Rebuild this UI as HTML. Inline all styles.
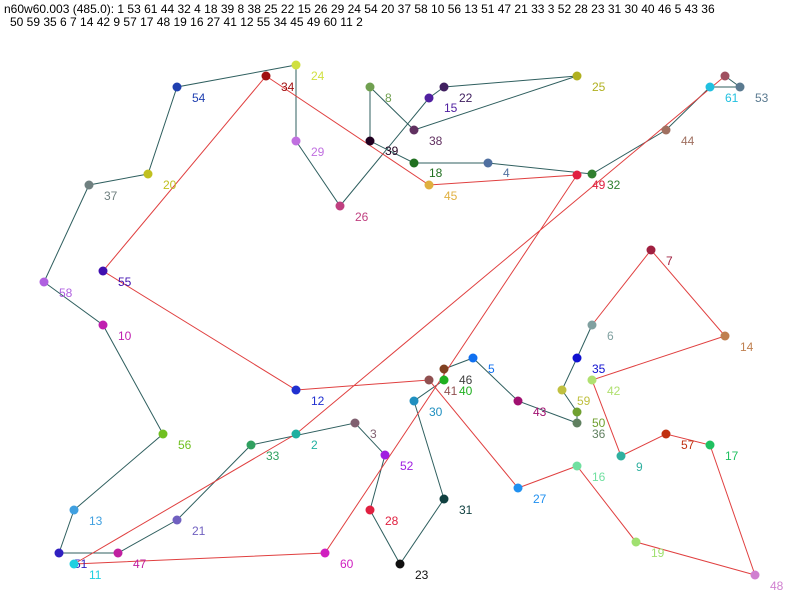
<!DOCTYPE html>
<html><head><meta charset="utf-8"><style>
html,body{margin:0;padding:0;background:#fff;}
svg{display:block;font-family:"Liberation Sans",sans-serif;}
</style></head><body>
<svg width="800" height="600" xmlns="http://www.w3.org/2000/svg">
<text x="4" y="13" font-size="12" fill="#000">n60w60.003 (485.0): 1 53 61 44 32 4 18 39 8 38 25 22 15 26 29 24 54 20 37 58 10 56 13 51 47 21 33 3 52 28 23 31 30 40 46 5 43 36</text>
<text x="10" y="26" font-size="12" fill="#000">50 59 35 6 7 14 42 9 57 17 48 19 16 27 41 12 55 34 45 49 60 11 2</text>
<polyline fill="none" stroke="#2f5f5f" stroke-width="1" points="725,76 740,87 710,87 666,130 592,174 488,163 414,163 370,141 370,87 414,130 577,76 444,87 429,98 340,206 296,141 296,65 177,87 148,174 89,185 44,282 103,325 163,434 74,510 59,553 118,553 177,520 251,445 355,423 385,455 370,510 400,564 444,499 414,401 444,380 444,369 473,358 518,401 577,423 577,412 562,390 577,358 592,325"/>
<polyline fill="none" stroke="#e04040" stroke-width="1" points="592,325 651,250 725,336 592,380 621,456 666,434 710,445 755,575 636,542 577,466 518,488 429,380 296,390 103,271 266,76 429,185 577,175 325,553 74,564 296,434 725,76"/>
<g font-size="12">
<circle cx="725" cy="76" r="4.5" fill="#a05060"/>
<circle cx="740" cy="87" r="4.5" fill="#5a7a90"/><text x="755" y="102" fill="#5a7a90">53</text>
<circle cx="710" cy="87" r="4.5" fill="#20c0e0"/><text x="725" y="102" fill="#20c0e0">61</text>
<circle cx="666" cy="130" r="4.5" fill="#a07060"/><text x="681" y="145" fill="#a07060">44</text>
<circle cx="592" cy="174" r="4.5" fill="#308030"/><text x="607" y="189" fill="#308030">32</text>
<circle cx="577" cy="175" r="4.5" fill="#e02040"/><text x="592" y="189" fill="#e02040">49</text>
<circle cx="488" cy="163" r="4.5" fill="#5070a0"/><text x="503" y="177" fill="#5070a0">4</text>
<circle cx="414" cy="163" r="4.5" fill="#207020"/><text x="429" y="177" fill="#207020">18</text>
<circle cx="370" cy="141" r="4.5" fill="#200020"/><text x="385" y="155" fill="#200020">39</text>
<circle cx="370" cy="87" r="4.5" fill="#70a050"/><text x="385" y="102" fill="#70a050">8</text>
<circle cx="414" cy="130" r="4.5" fill="#603060"/><text x="429" y="145" fill="#603060">38</text>
<circle cx="577" cy="76" r="4.5" fill="#b0b020"/><text x="592" y="91" fill="#b0b020">25</text>
<circle cx="444" cy="87" r="4.5" fill="#402060"/><text x="459" y="102" fill="#402060">22</text>
<circle cx="429" cy="98" r="4.5" fill="#5020a0"/><text x="444" y="112" fill="#5020a0">15</text>
<circle cx="340" cy="206" r="4.5" fill="#c04080"/><text x="355" y="221" fill="#c04080">26</text>
<circle cx="296" cy="141" r="4.5" fill="#c070e0"/><text x="311" y="156" fill="#c070e0">29</text>
<circle cx="296" cy="65" r="4.5" fill="#d0e040"/><text x="311" y="80" fill="#d0e040">24</text>
<circle cx="177" cy="87" r="4.5" fill="#2040b0"/><text x="192" y="102" fill="#2040b0">54</text>
<circle cx="148" cy="174" r="4.5" fill="#c0c020"/><text x="163" y="189" fill="#c0c020">20</text>
<circle cx="89" cy="185" r="4.5" fill="#708080"/><text x="104" y="200" fill="#708080">37</text>
<circle cx="44" cy="282" r="4.5" fill="#b060e0"/><text x="59" y="297" fill="#b060e0">58</text>
<circle cx="103" cy="325" r="4.5" fill="#c020b0"/><text x="118" y="340" fill="#c020b0">10</text>
<circle cx="163" cy="434" r="4.5" fill="#70c020"/><text x="178" y="449" fill="#70c020">56</text>
<circle cx="74" cy="510" r="4.5" fill="#40a0e0"/><text x="89" y="525" fill="#40a0e0">13</text>
<circle cx="59" cy="553" r="4.5" fill="#3020c0"/><text x="74" y="568" fill="#3020c0">51</text>
<circle cx="118" cy="553" r="4.5" fill="#c020a0"/><text x="133" y="568" fill="#c020a0">47</text>
<circle cx="177" cy="520" r="4.5" fill="#7060c0"/><text x="192" y="535" fill="#7060c0">21</text>
<circle cx="251" cy="445" r="4.5" fill="#30a060"/><text x="266" y="460" fill="#30a060">33</text>
<circle cx="355" cy="423" r="4.5" fill="#806070"/><text x="370" y="438" fill="#806070">3</text>
<circle cx="385" cy="455" r="4.5" fill="#a020e0"/><text x="400" y="470" fill="#a020e0">52</text>
<circle cx="370" cy="510" r="4.5" fill="#e02040"/><text x="385" y="525" fill="#e02040">28</text>
<circle cx="400" cy="564" r="4.5" fill="#101010"/><text x="415" y="579" fill="#101010">23</text>
<circle cx="444" cy="499" r="4.5" fill="#104040"/><text x="459" y="514" fill="#104040">31</text>
<circle cx="414" cy="401" r="4.5" fill="#2090c0"/><text x="429" y="416" fill="#2090c0">30</text>
<circle cx="444" cy="369" r="4.5" fill="#804020"/><text x="459" y="384" fill="#404040">46</text>
<circle cx="444" cy="380" r="4.5" fill="#20b020"/><text x="459" y="395" fill="#20b020">40</text>
<circle cx="473" cy="358" r="4.5" fill="#1070f0"/><text x="488" y="373" fill="#1070f0">5</text>
<circle cx="518" cy="401" r="4.5" fill="#a01070"/><text x="533" y="416" fill="#a01070">43</text>
<circle cx="577" cy="423" r="4.5" fill="#608060"/><text x="592" y="438" fill="#608060">36</text>
<circle cx="577" cy="412" r="4.5" fill="#70a030"/><text x="592" y="427" fill="#70a030">50</text>
<circle cx="562" cy="390" r="4.5" fill="#c0c040"/><text x="577" y="405" fill="#c0c040">59</text>
<circle cx="577" cy="358" r="4.5" fill="#1010d0"/><text x="592" y="373" fill="#1010d0">35</text>
<circle cx="592" cy="325" r="4.5" fill="#80a0a0"/><text x="607" y="340" fill="#80a0a0">6</text>
<circle cx="651" cy="250" r="4.5" fill="#a02040"/><text x="666" y="265" fill="#a02040">7</text>
<circle cx="725" cy="336" r="4.5" fill="#c08050"/><text x="740" y="351" fill="#c08050">14</text>
<circle cx="592" cy="380" r="4.5" fill="#b0e070"/><text x="607" y="395" fill="#b0e070">42</text>
<circle cx="621" cy="456" r="4.5" fill="#30b0a0"/><text x="636" y="471" fill="#30b0a0">9</text>
<circle cx="666" cy="434" r="4.5" fill="#c03010"/><text x="681" y="449" fill="#c03010">57</text>
<circle cx="710" cy="445" r="4.5" fill="#20c060"/><text x="725" y="460" fill="#20c060">17</text>
<circle cx="755" cy="575" r="4.5" fill="#d080d0"/><text x="770" y="590" fill="#d080d0">48</text>
<circle cx="636" cy="542" r="4.5" fill="#a0e070"/><text x="651" y="557" fill="#a0e070">19</text>
<circle cx="577" cy="466" r="4.5" fill="#70e0a0"/><text x="592" y="481" fill="#70e0a0">16</text>
<circle cx="518" cy="488" r="4.5" fill="#2090f0"/><text x="533" y="503" fill="#2090f0">27</text>
<circle cx="429" cy="380" r="4.5" fill="#905050"/><text x="444" y="395" fill="#905050">41</text>
<circle cx="296" cy="390" r="4.5" fill="#2030d0"/><text x="311" y="405" fill="#2030d0">12</text>
<circle cx="103" cy="271" r="4.5" fill="#4010b0"/><text x="118" y="286" fill="#4010b0">55</text>
<circle cx="266" cy="76" r="4.5" fill="#a01010"/><text x="281" y="91" fill="#a01010">34</text>
<circle cx="429" cy="185" r="4.5" fill="#e0b040"/><text x="444" y="200" fill="#e0b040">45</text>
<circle cx="325" cy="553" r="4.5" fill="#d020c0"/><text x="340" y="568" fill="#d020c0">60</text>
<circle cx="74" cy="564" r="4.5" fill="#20d0e0"/><text x="89" y="579" fill="#20d0e0">11</text>
<circle cx="296" cy="434" r="4.5" fill="#20b0a0"/><text x="311" y="449" fill="#20b0a0">2</text>
</g>
</svg>
</body></html>
